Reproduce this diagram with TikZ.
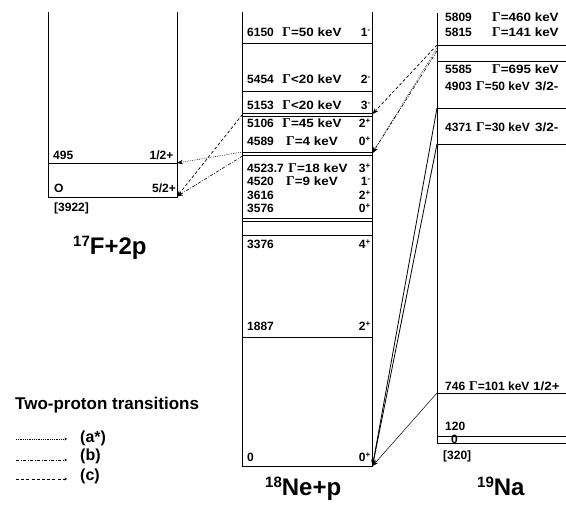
\documentclass[tikz,border=0pt]{standalone}
\usepackage{fontspec}
\setmainfont{Liberation Sans}
\newfontfamily\gfont{Liberation Serif}
\newfontfamily\widefont[FakeStretch=1.12]{Liberation Sans}
\usetikzlibrary{arrows.meta}
\newcommand\Gam{{\gfont\fontsize{13.5}{14}\selectfont Γ}}
\newcommand\sps[1]{\textsuperscript{#1}}
\begin{document}
\begin{tikzpicture}[x=1pt,y=-1pt,
  box/.style={line width=0.8pt},
  lvl/.style={line width=0.8pt},
  lab/.style={font=\fontsize{12}{13}\selectfont\bfseries, inner sep=0pt, anchor=base west},
  labr/.style={lab, anchor=base east},
  wlab/.style={font=\widefont\fontsize{12}{13}\selectfont\bfseries, inner sep=0pt, anchor=base west},
  wlabc/.style={wlab, anchor=base},
  big/.style={font=\fontsize{24}{26}\selectfont\bfseries, inner sep=0pt, anchor=base west},
  legt/.style={font=\fontsize{17}{18}\selectfont\bfseries, inner sep=0pt, anchor=base west},
  legi/.style={font=\fontsize{16}{18}\selectfont\bfseries, inner sep=0pt, anchor=west},
  arr/.style={-{Stealth[length=6pt,width=4.5pt]}},
  sarr/.style={-{Stealth[length=2.5pt,width=2.5pt]}, line width=0.5pt},
  dots/.style={dash pattern=on 0.7pt off 1.1pt, line width=0.6pt},
  dsh/.style={dash pattern=on 3pt off 2.2pt, line width=0.7pt},
  dshdot/.style={dash pattern=on 3pt off 1.6pt on 0.8pt off 1.6pt, line width=0.6pt}]
\useasboundingbox (0,0) rectangle (566,505);

% ---------- 17F+2p ----------
\draw[box] (48.5,12) -- (48.5,197) -- (177,197) -- (177,12);
\draw[lvl] (48.5,163) -- (177,163);
\node[lab] (f495) at (53,160) {495};
\node[labr] (f495s) at (173.5,160) {1/2+};
\node[lab] (f0) at (54,193) {O};
\node[labr] (f0s) at (176,193) {5/2+};
\node[lab] (fthr) at (54,212) {[3922]};
\node[big] (fname) at (73,255) {\raisebox{0.7ex}{\fontsize{15}{15}\selectfont 17}F+2p};

% ---------- 18Ne+p ----------
\draw[box] (242.5,12) -- (242.5,466) -- (372.5,466) -- (372.5,12);
\foreach \yy in {43.5,91.5,113.3,116,152,155,218,221,235,337.5}
  \draw[lvl] (242.5,\yy) -- (372.5,\yy);
\node[lab] (n1) at (247,37) {6150};   \node[wlabc] (n1g) at (312,37) {\Gam=50 keV};  \node[labr] (n1s) at (371,37) {1\sps{-}};
\node[lab] (n2) at (247,84) {5454};   \node[wlabc] (n2g) at (312,84) {\Gam<20 keV};  \node[labr] (n2s) at (371,84) {2\sps{-}};
\node[lab] (n3) at (247,110) {5153};  \node[wlabc] (n3g) at (312,110) {\Gam<20 keV}; \node[labr] (n3s) at (371,110) {3\sps{-}};
\node[lab] (n4) at (247,128) {5106};  \node[wlabc] (n4g) at (312,128) {\Gam=45 keV}; \node[labr] (n4s) at (371,128) {2\sps{+}};
\node[lab] (n5) at (247,146) {4589};  \node[wlabc] (n5g) at (312,146) {\Gam=4 keV};  \node[labr] (n5s) at (371,146) {0\sps{+}};
\node[lab] (n6) at (247,173) {4523.7};\node[wlabc] (n6g) at (318,173) {\Gam=18 keV}; \node[labr] (n6s) at (371,173) {3\sps{+}};
\node[lab] (n7) at (247,186) {4520};  \node[wlabc] (n7g) at (312,186) {\Gam=9 keV};  \node[labr] (n7s) at (371,186) {1\sps{-}};
\node[lab] (n8) at (247,200) {3616};  \node[labr] (n8s) at (371,200) {2\sps{+}};
\node[lab] (n9) at (247,213) {3576};  \node[labr] (n9s) at (371,213) {0\sps{+}};
\node[lab] (n10) at (247,249) {3376}; \node[labr] (n10s) at (371,249) {4\sps{+}};
\node[lab] (n11) at (247,331) {1887}; \node[labr] (n11s) at (371,331) {2\sps{+}};
\node[lab] (n12) at (247,462) {0};    \node[labr] (n12s) at (371,462) {0\sps{+}};
\node[big] (nename) at (265,496) {\raisebox{0.7ex}{\fontsize{15}{15}\selectfont 18}Ne+p};

% ---------- 19Na ----------
\draw[box] (437,13) -- (437,443.5) -- (566,443.5);
\foreach \yy in {45,61,108,144,393,436.5}
  \draw[lvl] (437,\yy) -- (566,\yy);
\node[lab] (a1) at (445,22) {5809};  \node[wlab] (a1g) at (492,22) {\Gam=460 keV};
\node[lab] (a2) at (445,37) {5815};  \node[wlab] (a2g) at (492,37) {\Gam=141 keV};
\node[lab] (a3) at (445,74) {5585};  \node[wlab] (a3g) at (492,74) {\Gam=695 keV};
\node[lab] (a4) at (445,91) {4903};  \node[lab] (a4g) at (476,91) {\Gam=50 keV}; \node[wlab] (a4s) at (535,91) {3/2-};
\node[lab] (a5) at (445,132) {4371}; \node[lab] (a5g) at (476,132) {\Gam=30 keV}; \node[wlab] (a5s) at (535,132) {3/2-};
\node[lab] (a6) at (445,391) {746};  \node[lab] (a6g) at (469,391) {\Gam=101 keV}; \node[wlab] (a6s) at (533,391) {1/2+};
\node[lab] (a7) at (445,431) {120};
\node[lab] (a8) at (451,443.5) {0};
\node[lab] (a9) at (443,460) {[320]};
\node[big] (naname) at (477,496) {\raisebox{0.7ex}{\fontsize{15}{15}\selectfont 19}Na};

% ---------- transitions ----------
\coordinate (ne5153L) at (242.5,114.5);
\coordinate (ne4589La) at (242.5,152);
\coordinate (ne4589Lb) at (242.5,156);
\coordinate (fl0) at (177,196.5);
\coordinate (fl495) at (177,163);
\draw[dsh,arr] (ne5153L) -- (fl0);
\draw[dots,arr] (ne4589La) -- (fl495);
\draw[dshdot,arr] (ne4589Lb) -- (fl0);

\coordinate (na1) at (437,45);
\coordinate (na1b) at (437,48);
\coordinate (na1c) at (437,51);
\coordinate (ne5153R) at (372.5,114);
\coordinate (ne4589R) at (372.5,153);
\draw[dsh,arr] (na1) -- (ne5153R);
\draw[dots,arr] (na1b) -- (ne4589R);
\draw[dshdot,arr] (na1c) -- (ne4589R);

\coordinate (na4903) at (437,108);
\coordinate (na4371) at (437,144);
\coordinate (na746) at (437,393);
\coordinate (ne0) at (372.5,466);
\draw[arr,line width=0.8pt] (na4903) -- (ne0);
\draw[arr,line width=0.8pt] (na4371) -- (ne0);
\draw[arr,line width=0.5pt] (na746) -- (ne0);

% ---------- legend ----------
\node[legt] (legtitle) at (15,410) {Two-proton transitions};
\coordinate (la1) at (16,439);  \coordinate (la2) at (67,439);
\coordinate (lb1) at (16,460);  \coordinate (lb2) at (67,460);
\coordinate (lc1) at (16,479);  \coordinate (lc2) at (67,479);
\draw[dots,sarr] (la1) -- (la2);
\draw[dshdot,sarr] (lb1) -- (lb2);
\draw[dsh,sarr] (lc1) -- (lc2);
\node[legi] (lega) at (80,438) {(a*)};
\node[legi] (legb) at (80,456) {(b)};
\node[legi] (legc) at (80,476) {(c)};
\end{tikzpicture}
\end{document}
